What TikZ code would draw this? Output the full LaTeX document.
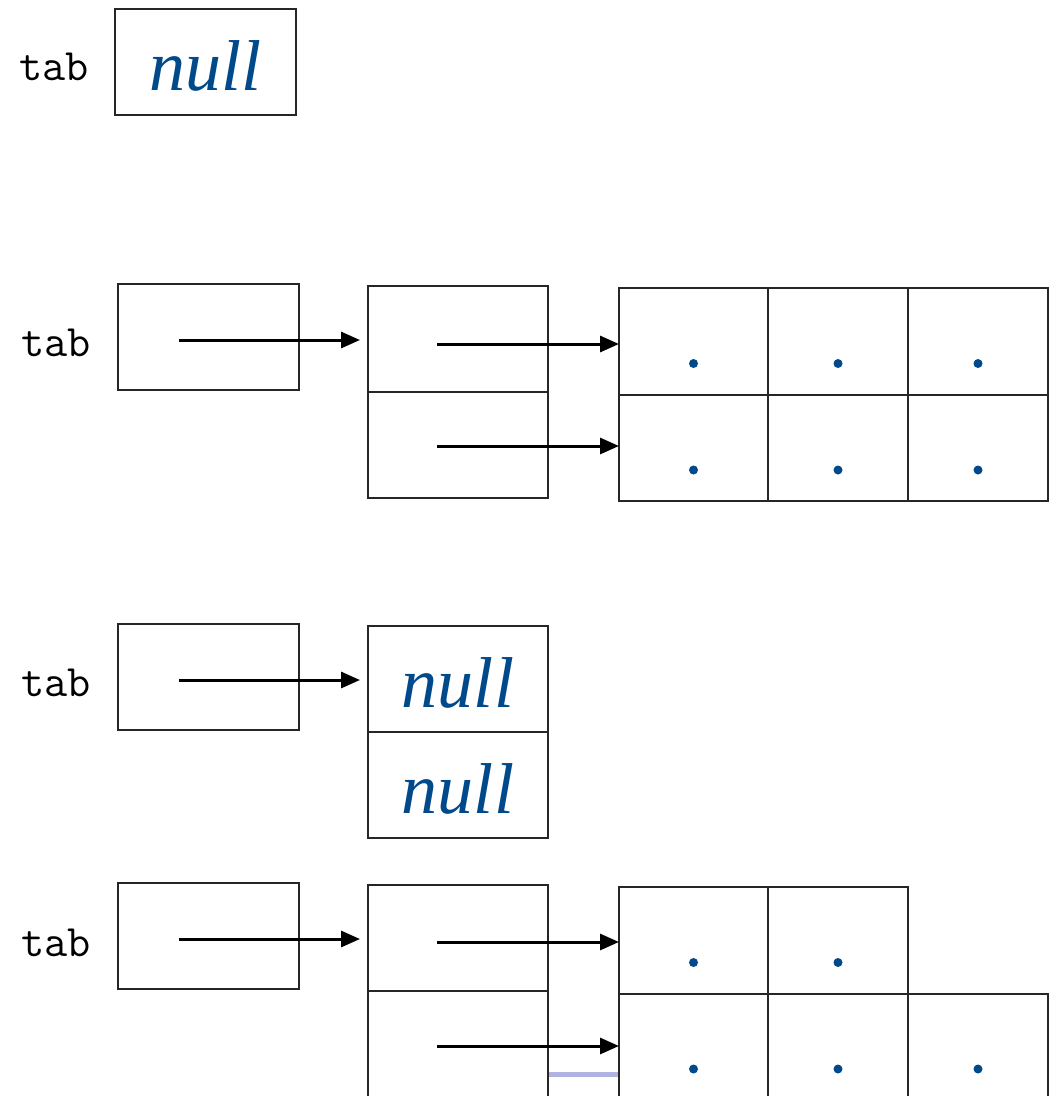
\documentclass[tikz,border=0pt]{standalone}
\usepackage{fontspec}
\setmainfont{Liberation Serif}
\usetikzlibrary{arrows.meta}
\definecolor{nullblue}{RGB}{0,74,140}
\tikzset{
  cell/.style={draw=black!85, line width=1.2pt, minimum width=181pt, minimum height=106pt, inner sep=0pt, outer sep=0pt, anchor=north west},
  gcell/.style={draw=black!85, line width=1.2pt, inner sep=0pt, outer sep=0pt, anchor=north west},
  lbl/.style={font=\ttfamily\fontsize{45}{47}\selectfont, anchor=west, inner sep=0pt},
  nulltxt/.style={font=\itshape\fontsize{72}{72}\selectfont, text=nullblue, yshift=-4pt},
  ptr/.style={line width=3pt, -{Triangle[length=19pt,width=16pt]}},
  dotc/.style={fill=nullblue, draw=none}
}
\begin{document}
\begin{tikzpicture}[x=1pt,y=-1pt]
\clip (0,0) rectangle (1056,1096);
\fill[white] (0,0) rectangle (1056,1096);

% ---- Row 1
\node[lbl] (t1) at (19,67) {tab};
\node[cell] (a1) at (115,9) {};
\node[nulltxt] (n1) at (a1.center) {null};

% ---- Row 2
\node[lbl] (t2) at (21,343) {tab};
\node[cell] (a2) at (118,284) {};
\node[cell, minimum width=180pt] (b2a) at (368,286) {};
\node[cell, minimum width=180pt] (b2b) at (368,392) {};
\node[gcell, minimum width=149pt, minimum height=107pt] (c2a) at (619,288) {};
\node[gcell, minimum width=140pt, minimum height=107pt] (c2b) at (768,288) {};
\node[gcell, minimum width=140pt, minimum height=107pt] (c2c) at (908,288) {};
\node[gcell, minimum width=149pt, minimum height=106pt] (c2d) at (619,395) {};
\node[gcell, minimum width=140pt, minimum height=106pt] (c2e) at (768,395) {};
\node[gcell, minimum width=140pt, minimum height=106pt] (c2f) at (908,395) {};
\coordinate (s2) at ([xshift=-30pt,yshift=-3pt]a2.center);
\coordinate (s2a) at ([xshift=-21pt,yshift=-5pt]b2a.center);
\coordinate (s2b) at ([xshift=-21pt,yshift=-1pt]b2b.center);
\draw[ptr, shorten >=8pt] (s2) -- (s2 -| b2a.west);
\draw[ptr] (s2a) -- (s2a -| c2a.west);
\draw[ptr] (s2b) -- (s2b -| c2d.west);
\foreach \c in {c2a,c2b,c2c,c2d,c2e,c2f}{
  \fill[dotc] ([yshift=-22pt]\c.center) circle (4.5pt);
}

% ---- Row 3
\node[lbl] (t3) at (21,683) {tab};
\node[cell] (a3) at (118,624) {};
\node[cell, minimum width=180pt] (b3a) at (368,626) {};
\node[cell, minimum width=180pt] (b3b) at (368,732) {};
\node[nulltxt] (n3a) at (b3a.center) {null};
\node[nulltxt] (n3b) at (b3b.center) {null};
\coordinate (s3) at ([xshift=-30pt,yshift=-3pt]a3.center);
\draw[ptr, shorten >=8pt] (s3) -- (s3 -| b3a.west);

% ---- Row 4
\node[lbl] (t4) at (21,943) {tab};
\node[cell] (a4) at (118,883) {};
\node[cell, minimum width=180pt] (b4a) at (368,885) {};
\node[cell, minimum width=180pt] (b4b) at (368,991) {};
\node[gcell, minimum width=149pt, minimum height=107pt] (c4a) at (619,887) {};
\node[gcell, minimum width=140pt, minimum height=107pt] (c4b) at (768,887) {};
\node[gcell, minimum width=149pt, minimum height=106pt] (c4d) at (619,994) {};
\node[gcell, minimum width=140pt, minimum height=106pt] (c4e) at (768,994) {};
\node[gcell, minimum width=140pt, minimum height=106pt] (c4f) at (908,994) {};
\coordinate (s4) at ([xshift=-30pt,yshift=-3pt]a4.center);
\coordinate (s4a) at ([xshift=-21pt,yshift=-4pt]b4a.center);
\coordinate (s4b) at ([xshift=-21pt,yshift=-2pt]b4b.center);
\draw[ptr, shorten >=8pt] (s4) -- (s4 -| b4a.west);
\draw[ptr] (s4a) -- (s4a -| c4a.west);
\draw[ptr] (s4b) -- (s4b -| c4d.west);
\foreach \c in {c4a,c4b,c4d,c4e,c4f}{
  \fill[dotc] ([yshift=-22pt]\c.center) circle (4.5pt);
}
\fill[blue!60!black!30] (549,1072) rectangle (618,1077);
\end{tikzpicture}
\end{document}
